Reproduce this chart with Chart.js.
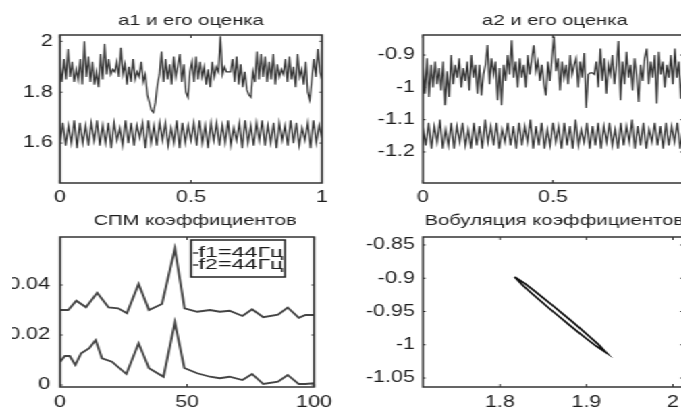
<!DOCTYPE html>
<html>
<head>
<meta charset="utf-8">
<script src="https://cdn.jsdelivr.net/npm/chart.js@4.4.0/dist/chart.umd.min.js"></script>
<style>
  html, body { margin: 0; padding: 0; background: #fff; overflow: hidden; width: 681px; height: 410px; }
  /* the original figure is stretched horizontally, so draw narrow and stretch */
  #fig { position: absolute; left: 0; top: 0; width: 520px; height: 410px; transform: scaleX(1.35); transform-origin: 0 0; }
  canvas { position: absolute; }
</style>
</head>
<body>
<div id="fig">
  <canvas id="a1Chart" width="252" height="215" style="left:0;top:0"></canvas>
  <canvas id="a2Chart" width="260" height="215" style="left:252px;top:0"></canvas>
  <canvas id="psdChart" width="243" height="205" style="left:8.9px;top:205px"></canvas>
  <canvas id="wobChart" width="260" height="205" style="left:252px;top:205px"></canvas>
</div>
<script>
// a1 (noisy estimate) and the periodic true a1, sampled evenly over t = 0..1
const a1Est = [
  1.90, 1.84, 1.93, 1.85, 1.97, 1.86, 1.92, 1.84, 1.89, 1.85,
  1.93, 1.83, 2.00, 1.86, 1.94, 1.84, 1.92, 1.83, 1.88, 1.82,
  1.95, 1.85, 1.99, 1.87, 1.93, 1.87, 1.89, 1.88, 1.92, 1.86,
  1.975, 1.87, 1.91, 1.83, 1.90, 1.84, 1.93, 1.85, 1.88, 1.86,
  1.92, 1.84, 1.87, 1.79, 1.76, 1.73, 1.72, 1.76, 1.83, 1.87,
  1.96, 1.84, 1.93, 1.85, 1.91, 1.83, 1.94, 1.86, 1.90, 1.95,
  1.84, 1.91, 1.80, 1.78, 1.88, 1.92, 1.84, 1.94, 1.85, 1.92,
  1.86, 1.90, 1.83, 1.89, 1.82, 1.92, 1.86, 1.90, 1.88, 2.02,
  1.87, 1.90, 1.88, 1.88, 1.88, 1.93, 1.84, 1.94, 1.83, 1.91,
  1.82, 1.88, 1.81, 1.79, 1.78, 1.88, 1.84, 1.96, 1.85, 1.95,
  1.86, 1.94, 1.84, 1.92, 1.85, 1.95, 1.83, 1.91, 1.86, 1.89,
  1.87, 1.93, 1.84, 1.94, 1.85, 1.90, 1.82, 1.95, 1.86, 1.89,
  1.83, 1.92, 1.80, 1.77, 1.85, 1.93, 1.86, 1.97, 1.88, 1.85
];
const a1True = [
  1.60, 1.68, 1.59, 1.67, 1.60, 1.69, 1.58, 1.68, 1.60, 1.67,
  1.59, 1.68, 1.61, 1.69, 1.59, 1.67, 1.60, 1.68, 1.58, 1.68,
  1.61, 1.66, 1.59, 1.69, 1.60, 1.68, 1.59, 1.67, 1.62, 1.68,
  1.58, 1.69, 1.60, 1.67, 1.59, 1.68, 1.61, 1.68, 1.59, 1.66,
  1.60, 1.69, 1.58, 1.68, 1.60, 1.67, 1.61, 1.68, 1.59, 1.69,
  1.60, 1.67, 1.58, 1.68, 1.61, 1.68, 1.59, 1.67, 1.60, 1.69,
  1.59, 1.66, 1.61, 1.68, 1.58, 1.69, 1.60, 1.67, 1.59, 1.68,
  1.61, 1.69, 1.59, 1.67, 1.60, 1.68, 1.58, 1.68, 1.61, 1.67,
  1.59, 1.69, 1.60, 1.68, 1.59, 1.66, 1.61, 1.68, 1.58, 1.69,
  1.60, 1.67, 1.62
];

// a2 (noisy estimate) and the periodic true a2
const a2Est = [
  -0.93, -1.02, -0.91, -1.03, -0.93, -1.00, -0.92, -0.99, -0.94, -1.01,
  -0.92, -1.055, -0.95, -1.03, -0.90, -0.99, -0.93, -0.97, -0.91, -1.00,
  -0.94, -0.98, -0.92, -1.01, -0.90, -0.97, -0.93, -1.02, -0.93, -1.025,
  -0.96, -0.93, -0.869, -0.99, -0.91, -0.96, -0.92, -1.04, -0.94, -1.055,
  -0.93, -0.98, -0.90, -0.96, -0.854, -0.97, -0.92, -1.00, -0.91, -0.97,
  -0.93, -1.00, -0.90, -0.96, -0.91, -0.87, -0.95, -0.92, -0.98, -0.93,
  -0.99, -1.025, -0.92, -0.98, -0.91, -0.843, -0.95, -0.91, -1.01, -0.92,
  -0.97, -0.93, -0.99, -0.90, -0.96, -0.93, -0.91, -1.00, -0.92, -0.97,
  -0.894, -1.064, -0.96, -0.955, -0.955, -0.96, -0.92, -1.00, -0.88, -0.98,
  -0.91, -1.02, -0.93, -0.96, -0.90, -0.99, -0.93, -0.857, -1.04, -0.92,
  -0.99, -0.89, -0.97, -0.93, -1.01, -0.91, -0.96, -1.045, -0.93, -0.98,
  -0.91, -0.88, -0.99, -0.92, -0.97, -0.90, -1.05, -0.89, -0.96, -0.92,
  -1.00, -0.93, -0.97, -0.90, -0.99, -0.88, -0.97, -0.92, -1.035, -0.94
];
const a2True = [
  -1.12, -1.18, -1.11, -1.19, -1.12, -1.17, -1.10, -1.19, -1.13, -1.18,
  -1.11, -1.19, -1.12, -1.17, -1.11, -1.18, -1.13, -1.19, -1.11, -1.18,
  -1.12, -1.19, -1.10, -1.17, -1.12, -1.18, -1.11, -1.19, -1.13, -1.17,
  -1.11, -1.18, -1.12, -1.19, -1.11, -1.18, -1.12, -1.17, -1.10, -1.19,
  -1.12, -1.18, -1.11, -1.19, -1.13, -1.18, -1.11, -1.17, -1.12, -1.19,
  -1.11, -1.18, -1.12, -1.19, -1.10, -1.18, -1.13, -1.17, -1.11, -1.19,
  -1.12, -1.18, -1.11, -1.19, -1.12, -1.17, -1.11, -1.18, -1.13, -1.19,
  -1.11, -1.18, -1.12, -1.17, -1.10, -1.19, -1.12, -1.18, -1.11, -1.19,
  -1.13, -1.17, -1.11, -1.18, -1.12, -1.19, -1.11, -1.18, -1.12, -1.17,
  -1.11, -1.19, -1.13
];

// spectral density of the coefficients
const psdFreq1 = [0, 3.2, 6.4, 10.2, 14.6, 19.1, 22.9, 26.3, 30.9, 35, 40.1, 45.2, 49, 54, 59, 62.9, 66.7, 71.8, 75.6, 80, 85.8, 89.6, 94, 96.6, 100];
const psdVal1 = [0.030, 0.030, 0.0337, 0.0311, 0.0369, 0.031, 0.0307, 0.0287, 0.0404, 0.030, 0.0324, 0.0545, 0.0307, 0.0293, 0.030, 0.0293, 0.0297, 0.0276, 0.0303, 0.0271, 0.0281, 0.031, 0.0269, 0.028, 0.028];
const psdFreq2 = [0, 1.9, 3.8, 6, 8.3, 11.5, 14, 16.5, 20.4, 26.1, 30.9, 35, 40.7, 45.2, 48.9, 54, 59, 62.9, 66.7, 71.8, 75.6, 80, 85.8, 89.6, 94, 96.6, 100];
const psdVal2 = [0.0093, 0.0116, 0.0116, 0.008, 0.0127, 0.0147, 0.018, 0.0107, 0.0093, 0.0044, 0.0167, 0.0067, 0.0033, 0.025, 0.0068, 0.0047, 0.0033, 0.0027, 0.0033, 0.002, 0.0044, 0.0004, 0.0013, 0.004, 0.0004, 0.0004, 0.0007];
const psdLabels = ['f1=44Гц', 'f2=44Гц'];

// wobble: a1 against a2
const wobA1 = [1.817, 1.8286, 1.8395, 1.8503, 1.8610, 1.8716, 1.8822, 1.8927, 1.9031, 1.9134, 1.923,
               1.9114, 1.9005, 1.8897, 1.8790, 1.8684, 1.8578, 1.8474, 1.8369, 1.8266, 1.817];
const wobA2 = [-0.898, -0.9078, -0.9187, -0.9298, -0.9410, -0.9524, -0.9638, -0.9754, -0.9871, -0.9990, -1.012,
               -1.0022, -0.9913, -0.9802, -0.9690, -0.9576, -0.9462, -0.9346, -0.9229, -0.9110, -0.898];

// ticks
const a1YTicks = [1.6, 1.8, 2];
const a1XTicks = [0, 0.5, 1];
const a2YTicks = [-1.2, -1.1, -1, -0.9];
const a2XTicks = [0, 0.5];
const psdXTicks = [0, 50, 100];
const psdYTicks = [0, 0.02, 0.04];
const wobXTicks = [1.8, 1.9, 2];
const wobYTicks = [-1.05, -1, -0.95, -0.9, -0.85];

const FONT = '"Liberation Sans", Arial, sans-serif';
const INK = '#1e1e1e';

function timeSeries(values) {
  return values.map((v, i) => ({ x: i / (values.length - 1), y: v }));
}
function pairs(xs, ys) {
  return xs.map((x, i) => ({ x: x, y: ys[i] }));
}

// matlab-like box with inward ticks
const framePlugin = {
  id: 'frame',
  afterDatasetsDraw(chart) {
    const { ctx, chartArea: a, scales } = chart;
    ctx.save();
    ctx.strokeStyle = '#333';
    ctx.lineWidth = 1.5;
    ctx.strokeRect(a.left, a.top, a.right - a.left, a.bottom - a.top);
    ctx.lineWidth = 1;
    ctx.beginPath();
    scales.x.ticks.forEach(t => {
      const px = scales.x.getPixelForValue(t.value);
      ctx.moveTo(px, a.bottom); ctx.lineTo(px, a.bottom - 3);
      ctx.moveTo(px, a.top); ctx.lineTo(px, a.top + 3);
    });
    scales.y.ticks.forEach(t => {
      const py = scales.y.getPixelForValue(t.value);
      ctx.moveTo(a.left, py); ctx.lineTo(a.left + 2, py);
      ctx.moveTo(a.right, py); ctx.lineTo(a.right - 2, py);
    });
    ctx.stroke();
    ctx.restore();
  }
};

// title above each panel
const titlePlugin = {
  id: 'panelTitle',
  afterDraw(chart, args, opts) {
    const { ctx, chartArea: a } = chart;
    ctx.save();
    ctx.fillStyle = INK;
    ctx.font = '15px ' + FONT;
    ctx.textAlign = 'center';
    ctx.textBaseline = 'middle';
    ctx.fillText(opts.text, (a.left + a.right) / 2 + opts.dx, a.top - opts.dy);
    ctx.restore();
  }
};

// boxed legend inside the plot, top right
const boxLegend = {
  id: 'boxLegend',
  afterDraw(chart) {
    const { ctx, chartArea: a } = chart;
    const left = a.left + 97, top = a.top + 3, w = 69.6, h = 37;
    ctx.save();
    ctx.fillStyle = '#fff';
    ctx.fillRect(left, top, w, h);
    ctx.strokeStyle = '#222';
    ctx.lineWidth = 1.5;
    ctx.strokeRect(left, top, w, h);
    chart.data.datasets.forEach((ds, i) => {
      const yy = top + 13 + i * 12;
      ctx.strokeStyle = ds.borderColor;
      ctx.lineWidth = 1.5;
      ctx.beginPath();
      ctx.moveTo(left + 1.5, yy);
      ctx.lineTo(left + 5.5, yy);
      ctx.stroke();
      ctx.save();
      ctx.translate(left + 5.5, yy);
      ctx.scale(1.15, 1);
      ctx.fillStyle = INK;
      ctx.font = '15px ' + FONT;
      ctx.textBaseline = 'middle';
      ctx.fillText(ds.label, 0, 0);
      ctx.restore();
    });
    ctx.restore();
  }
};

function axis(min, max, tickList, fitSize, pad, isX) {
  return {
    type: 'linear',
    min: min,
    max: max,
    grid: { display: false, drawTicks: false },
    border: { display: false },
    afterBuildTicks: s => { s.ticks = tickList.map(v => ({ value: v })); },
    afterFit: s => { if (isX) s.height = fitSize; else s.width = fitSize; },
    ticks: {
      padding: pad,
      color: INK,
      font: { family: FONT, size: 16 },
      callback: v => String(v)
    }
  };
}

function makeChart(id, cfg) {
  return new Chart(document.getElementById(id), {
    type: 'line',
    data: { datasets: cfg.datasets },
    options: {
      responsive: false,
      animation: false,
      layout: { padding: { left: 0, right: cfg.padRight, top: cfg.padTop, bottom: 0 } },
      elements: { point: { radius: 0 }, line: { tension: 0 } },
      plugins: {
        legend: { display: false },
        tooltip: { enabled: false },
        title: { display: false },
        panelTitle: cfg.title
      },
      scales: {
        x: cfg.x,
        y: cfg.y
      }
    },
    plugins: [framePlugin, titlePlugin].concat(cfg.extra || [])
  });
}

const lineStyle = (color, width) => ({ borderColor: color, borderWidth: width, fill: false, pointRadius: 0 });

makeChart('a1Chart', {
  title: { text: 'a1 и его оценка', dx: 0, dy: 14 },
  padTop: 35,
  padRight: 13.5,
  datasets: [
    Object.assign({ label: 'a1 est', data: timeSeries(a1Est) }, lineStyle('#333', 1.2)),
    Object.assign({ label: 'a1', data: timeSeries(a1True) }, lineStyle('#333', 1.2))
  ],
  x: axis(0, 1, a1XTicks, 32, 4.5, true),
  y: axis(1.443, 2.025, a1YTicks, 44.4, 5.2, false)
});

makeChart('a2Chart', {
  title: { text: 'a2 и его оценка', dx: 1.5, dy: 14 },
  padTop: 35,
  padRight: 6.1,
  datasets: [
    Object.assign({ label: 'a2 est', data: timeSeries(a2Est) }, lineStyle('#333', 1.2)),
    Object.assign({ label: 'a2', data: timeSeries(a2True) }, lineStyle('#333', 1.2))
  ],
  x: axis(0, 1, a2XTicks, 32, 4.5, true),
  y: axis(-1.296, -0.838, a2YTicks, 61.3, 5.9, false)
});

makeChart('psdChart', {
  title: { text: 'СПМ коэффициентов', dx: 5.9, dy: 16 },
  padTop: 32,
  padRight: 13.5,
  datasets: [
    Object.assign({ label: psdLabels[0], data: pairs(psdFreq1, psdVal1) }, lineStyle('#444', 1.8)),
    Object.assign({ label: psdLabels[1], data: pairs(psdFreq2, psdVal2) }, lineStyle('#444', 1.8))
  ],
  x: axis(0, 100, psdXTicks, 23, 6, true),
  y: axis(-0.0008, 0.0592, psdYTicks, 35.5, 7.4, false),
  extra: [boxLegend]
});

makeChart('wobChart', {
  title: { text: 'Вобуляция коэффициентов', dx: 1, dy: 16 },
  padTop: 32,
  padRight: 6.1,
  datasets: [
    Object.assign({ label: 'a1-a2', data: pairs(wobA1, wobA2) }, lineStyle('#111', 1.7))
  ],
  x: axis(1.711, 2.0116, wobXTicks, 23, 6, true),
  y: axis(-1.0635, -0.838, wobYTicks, 61.3, 5.9, false)
});
</script>
</body>
</html>
